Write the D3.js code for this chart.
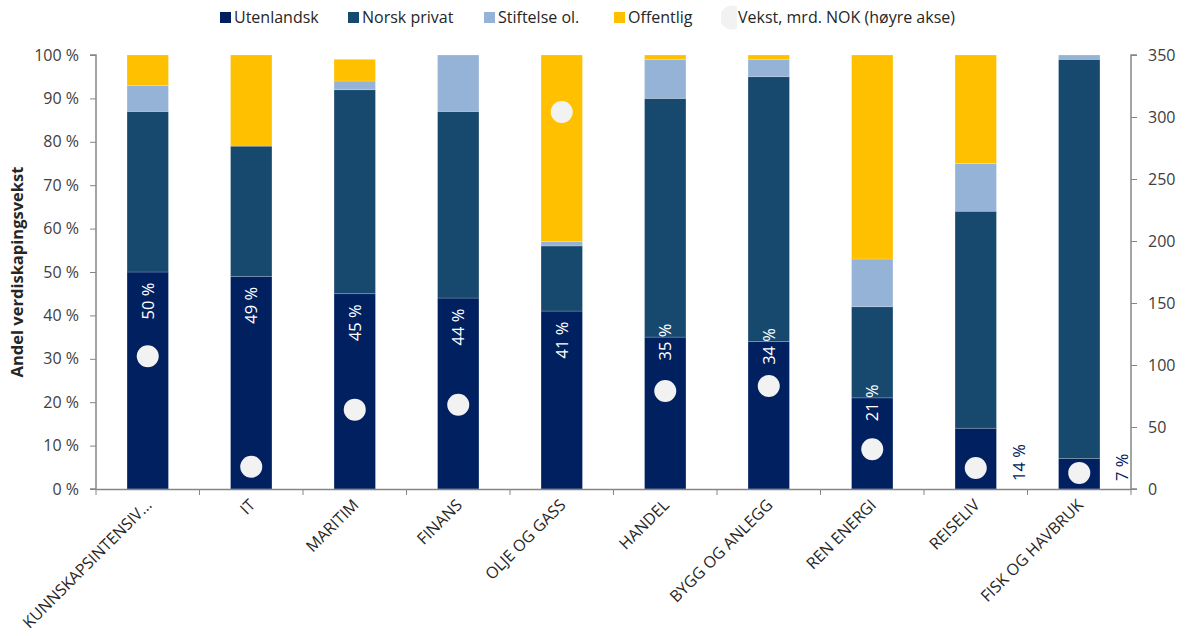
<!DOCTYPE html>
<html><head><meta charset="utf-8">
<script src="https://cdn.jsdelivr.net/npm/d3@7"></script>
<style>
body{margin:0;background:#fff;}
svg{font-family:"Open Sans",sans-serif;}
</style></head>
<body><svg id="c" width="1188" height="636"></svg>
<script>
const categories = ["KUNNSKAPSINTENSIV...","IT","MARITIM","FINANS","OLJE OG GASS","HANDEL","BYGG OG ANLEGG","REN ENERGI","REISELIV","FISK OG HAVBRUK"];
const utenlandsk  = [50,49,45,44,41,35,34,21,14,7];
const norskPrivat = [37,30,47,43,15,55,61,21,50,92];
const stiftelse   = [6,0,2,13,1,9,4,11,11,1];
const offentlig   = [7,21,5,0,43,1,1,47,25,0];
const vekst       = [107,18,64,68,304,79,83,32,17,13];
const leftTicks   = [0,10,20,30,40,50,60,70,80,90,100];
const rightTicks  = [0,50,100,150,200,250,300,350];
const seriesNames = ["Utenlandsk","Norsk privat","Stiftelse ol.","Offentlig"];
const seriesColors= ["#002060","#17496e","#95b3d7","#ffc000"];
const dotName = "Vekst, mrd. NOK (høyre akse)";

const svg = d3.select("#c");
const L=96, R=1131, T=55, B=489;
const x = d3.scaleBand().domain(categories).range([L,R]).paddingInner(0.6).paddingOuter(0.3);
const xb = d3.scaleBand().domain(categories).range([L,R]);
const y = d3.scaleLinear().domain([0,100]).range([B,T]);
const y2 = d3.scaleLinear().domain([0,350]).range([B,T]);
const axisCol="#868686", txtCol="#404040";

const rows = categories.map((c,i)=>({cat:c, s0:utenlandsk[i], s1:norskPrivat[i], s2:stiftelse[i], s3:offentlig[i]}));
const stack = d3.stack().keys(["s0","s1","s2","s3"])(rows);

stack.forEach((layer,k)=>{
  svg.append("g").selectAll("rect").data(layer).join("rect")
    .attr("x",d=>x(d.data.cat)).attr("width",x.bandwidth())
    .attr("y",d=>y(d[1])).attr("height",d=>Math.max(0,y(d[0])-y(d[1])))
    .attr("fill",seriesColors[k])
    .attr("stroke","rgba(255,255,255,0.25)").attr("stroke-width",0.75);
});

// axes
const gl = svg.append("g").attr("transform",`translate(${L},0)`)
  .call(d3.axisLeft(y).tickValues(leftTicks).tickSize(6).tickPadding(11).tickFormat(d=>d+" %"));
const gr = svg.append("g").attr("transform",`translate(${R},0)`)
  .call(d3.axisRight(y2).tickValues(rightTicks).tickSize(6).tickPadding(11));
const gb = svg.append("g").attr("transform",`translate(0,${B})`)
  .call(d3.axisBottom(xb).tickSize(0).tickFormat(""));
gb.selectAll(".tick").remove();
const bounds = categories.map(c=>xb(c)).concat([R]);
gb.selectAll("line.tk").data(bounds).join("line").attr("class","tk")
  .attr("x1",d=>d).attr("x2",d=>d).attr("y1",0).attr("y2",6)
  .attr("stroke",axisCol);
[gl,gr,gb].forEach(g=>{
  g.select(".domain").attr("stroke",axisCol).attr("stroke-width",1.5);
  g.selectAll(".tick line").attr("stroke",axisCol);
  g.selectAll("text").attr("fill",txtCol).attr("font-size",16).attr("font-family","Open Sans");
});
gl.select(".domain").attr("d",`M-6,${T}H0V${B}H-6`);
gr.select(".domain").attr("d",`M6,${T}H0V${B}H6`);

// x labels
svg.append("g").selectAll("text").data(categories).join("text")
  .attr("transform",d=>`translate(${xb(d)+xb.bandwidth()/2+5},${B+17}) rotate(-45)`)
  .attr("text-anchor","end").attr("font-size",16).attr("fill","#262626")
  .text(d=>d);

// y title
svg.append("text").attr("transform",`translate(23,${(T+B)/2}) rotate(-90)`)
  .attr("text-anchor","middle").attr("font-weight","bold").attr("font-size",16.5)
  .attr("fill","#262626").text("Andel verdiskapingsvekst");

// dots
svg.append("g").selectAll("circle").data(categories).join("circle")
  .attr("cx",d=>x(d)+x.bandwidth()/2).attr("cy",(d,i)=>y2(vekst[i]))
  .attr("r",11).attr("fill","#f2f2f2");

// labels
svg.append("g").selectAll("text").data(categories).join("text")
  .each(function(d,i){
    const v=utenlandsk[i], cx=x(d)+x.bandwidth()/2, top=y(v), dy=y2(vekst[i]);
    const t=d3.select(this).attr("font-size",16.5).text(v+" %");
    if(v<15){
      t.attr("transform",`translate(${cx+43},${B-8}) rotate(-90)`)
       .attr("text-anchor","start").attr("dy","0.35em").attr("fill","#002060");
    } else {
      let c=top+29;
      if(dy>top && dy-11 < top+52) c=top+5;
      t.attr("transform",`translate(${cx},${c}) rotate(-90)`)
       .attr("text-anchor","middle").attr("dy","0.35em").attr("fill","#ffffff");
    }
  });

// legend
const lg = svg.append("g").attr("font-size",16).attr("fill","#262626");
const lx = [220,348,484,614];
seriesNames.forEach((n,k)=>{
  lg.append("rect").attr("x",lx[k]).attr("y",12).attr("width",11).attr("height",11).attr("fill",seriesColors[k]);
  lg.append("text").attr("x",lx[k]+14).attr("y",17.5).attr("dy","0.35em").attr("fill","#262626").text(n);
});
svg.append("defs").append("clipPath").attr("id","lc").append("rect").attr("x",721).attr("y",0).attr("width",16).attr("height",40);
lg.append("circle").attr("cx",732).attr("cy",17.5).attr("r",12).attr("fill","#f2f2f2").attr("clip-path","url(#lc)");
lg.append("text").attr("x",738).attr("y",17.5).attr("dy","0.35em").attr("fill","#262626").text(dotName);
</script></body></html>
